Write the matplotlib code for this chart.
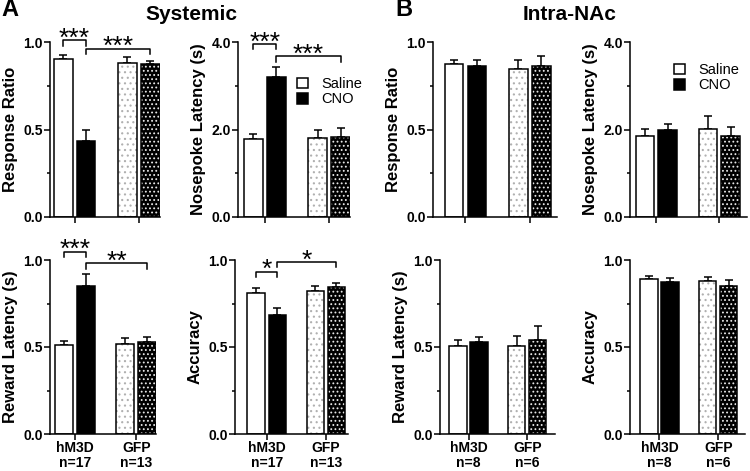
import matplotlib

matplotlib.use("Agg")
import matplotlib.pyplot as plt
import matplotlib.patches as mpatches
from matplotlib.ticker import MultipleLocator

plt.rcParams["font.family"] = ["Liberation Sans", "DejaVu Sans"]
plt.rcParams["hatch.linewidth"] = 0.8

# ---- data (bar order: hM3D saline, hM3D CNO, GFP saline, GFP CNO) ----
groups = ["hM3D", "GFP"]
conditions = ["Saline", "CNO"]
n_systemic = [17, 13]
n_intra = [8, 6]

sys_response_mean = [0.903, 0.432, 0.880, 0.874]
sys_response_sem = [0.021, 0.067, 0.032, 0.019]
sys_nosepoke_mean = [1.79, 3.21, 1.81, 1.84]
sys_nosepoke_sem = [0.11, 0.22, 0.19, 0.19]
sys_reward_mean = [0.512, 0.851, 0.518, 0.528]
sys_reward_sem = [0.020, 0.069, 0.033, 0.032]
sys_accuracy_mean = [0.809, 0.683, 0.824, 0.843]
sys_accuracy_sem = [0.032, 0.044, 0.029, 0.027]

nac_response_mean = [0.874, 0.861, 0.846, 0.861]
nac_response_sem = [0.025, 0.038, 0.053, 0.057]
nac_nosepoke_mean = [1.85, 1.99, 2.02, 1.86]
nac_nosepoke_sem = [0.17, 0.14, 0.29, 0.20]
nac_reward_mean = [0.505, 0.528, 0.505, 0.543]
nac_reward_sem = [0.038, 0.030, 0.057, 0.080]
nac_accuracy_mean = [0.891, 0.872, 0.882, 0.851]
nac_accuracy_sem = [0.019, 0.027, 0.023, 0.035]

# significance brackets: (bar_i, bar_j, height, label)
sys_response_sig = [(0, 1, 1.01, "***"), (1, 3, 0.96, "***")]
sys_nosepoke_sig = [(0, 1, 3.95, "***"), (1, 3, 3.67, "***")]
sys_reward_sig = [(0, 1, 1.048, "***"), (1, 3, 0.981, "**")]
sys_accuracy_sig = [(0, 1, 0.933, "*"), (1, 3, 0.987, "*")]

# ---- layout ----
W, H = 750, 471
XPOS = [0, 1, 2.8, 3.8]
BAR_W = 0.82
LW = 1.1


def rect(left, top, right, bottom):
    return [left / W, 1 - bottom / H, (right - left) / W, (bottom - top) / H]


def draw_panel(fig, box, xlim, means, sems, ylabel, ymax, ns, sig=None,
               legend=None, show_x=False):
    ax = fig.add_axes(rect(*box))
    fills = ["white", "black", "white", "black"]
    hatches = [None, None, "...", "...."]
    hatch_cols = [None, None, "#b0b0b0", "#e8e8e8"]
    for x, m, fc, h, hc in zip(XPOS, means, fills, hatches, hatch_cols):
        if h:
            ax.bar(x, m, width=BAR_W, color=fc, hatch=h, edgecolor=hc,
                   linewidth=0, zorder=2)
        else:
            ax.bar(x, m, width=BAR_W, color=fc, linewidth=0, zorder=2)
        ax.bar(x, m, width=BAR_W, fill=False, edgecolor="black",
               linewidth=LW, zorder=3)
    ax.errorbar(XPOS, means, yerr=[[0] * 4, sems], fmt="none", ecolor="black",
                elinewidth=LW, capsize=3.2, capthick=LW, zorder=1)

    ax.set_xlim(*xlim)
    ax.set_ylim(0, ymax)
    ax.yaxis.set_major_locator(MultipleLocator(ymax / 2))
    ax.yaxis.set_minor_locator(MultipleLocator(ymax / 4))
    ax.yaxis.set_major_formatter(plt.FormatStrFormatter("%.1f"))
    for s in ("top", "right"):
        ax.spines[s].set_visible(False)
    for s in ("left", "bottom"):
        ax.spines[s].set_linewidth(LW)
    ax.tick_params(axis="y", which="major", length=4, width=LW, pad=1,
                   labelsize=10)
    ax.tick_params(axis="y", which="minor", length=2.5, width=LW)
    for t in ax.get_yticklabels():
        t.set_fontweight("bold")
    ax.tick_params(axis="x", length=4, width=LW, pad=1, labelsize=10)
    centers = [(XPOS[0] + XPOS[1]) / 2, (XPOS[2] + XPOS[3]) / 2]
    ax.set_xticks(centers)
    if show_x:
        ax.set_xticklabels([f"{g}\nn={n}" for g, n in zip(groups, ns)],
                           fontweight="bold", linespacing=1.1)
    else:
        ax.set_xticklabels([])
    ax.set_ylabel(ylabel, fontsize=12, fontweight="bold", labelpad=4)

    if sig:
        d = ymax * 0.03
        for i, j, y, lab in sig:
            ax.plot([XPOS[i], XPOS[i], XPOS[j], XPOS[j]], [y - d, y, y, y - d],
                    color="black", lw=LW, clip_on=False)
            ax.annotate(lab, xy=((XPOS[i] + XPOS[j]) / 2, y), xytext=(0, -3.8),
                        textcoords="offset points", ha="center", va="baseline",
                        fontsize=19, annotation_clip=False)
    if legend:
        handles = [mpatches.Patch(facecolor="white", edgecolor="black",
                                  linewidth=LW, label=conditions[0]),
                   mpatches.Patch(facecolor="black", edgecolor="black",
                                  linewidth=LW, label=conditions[1])]
        ax.legend(handles=handles, loc="upper left", bbox_to_anchor=legend,
                  frameon=False, fontsize=10.5, handlelength=0.75,
                  handleheight=0.75, handletextpad=0.9, labelspacing=0.1,
                  borderaxespad=0, borderpad=0)
    return ax


fig = plt.figure(figsize=(W / 100, H / 100), dpi=100)

draw_panel(fig, (50, 42, 160, 217), (-0.57, 4.22), sys_response_mean,
           sys_response_sem, "Response Ratio", 1.0, n_systemic,
           sig=sys_response_sig)
draw_panel(fig, (238, 42, 350, 217), (-0.67, 4.2), sys_nosepoke_mean,
           sys_nosepoke_sem, "Nosepoke Latency (s)", 4.0, n_systemic,
           sig=sys_nosepoke_sig, legend=(0.53, 0.80))
draw_panel(fig, (50, 260, 156, 434), (-0.64, 4.2), sys_reward_mean,
           sys_reward_sem, "Reward Latency (s)", 1.0, n_systemic,
           sig=sys_reward_sig, show_x=True)
draw_panel(fig, (235, 260, 348, 434), (-1.0, 4.35), sys_accuracy_mean,
           sys_accuracy_sem, "Accuracy", 1.0, n_systemic,
           sig=sys_accuracy_sig, show_x=True)

draw_panel(fig, (433, 42, 557, 217), (-0.91, 4.48), nac_response_mean,
           nac_response_sem, "Response Ratio", 1.0, n_intra)
draw_panel(fig, (630, 42, 747, 217), (-0.67, 4.53), nac_nosepoke_mean,
           nac_nosepoke_sem, "Nosepoke Latency (s)", 4.0, n_intra,
           legend=(0.38, 0.88))
draw_panel(fig, (440, 260, 555, 434), (-0.86, 4.62), nac_reward_mean,
           nac_reward_sem, "Reward Latency (s)", 1.0, n_intra, show_x=True)
draw_panel(fig, (630, 260, 745, 434), (-0.9, 4.57), nac_accuracy_mean,
           nac_accuracy_sem, "Accuracy", 1.0, n_intra, show_x=True)

fig.text(10 / W, 1 - 10 / H, "A", fontsize=17, fontweight="bold",
         ha="center", va="center")
fig.text(404 / W, 1 - 10 / H, "B", fontsize=17, fontweight="bold",
         ha="center", va="center")
fig.text(191 / W, 1 - 14 / H, "Systemic", fontsize=15, fontweight="bold",
         ha="center", va="center")
fig.text(570 / W, 1 - 14 / H, "Intra-NAc", fontsize=15, fontweight="bold",
         ha="center", va="center")

fig.savefig("out.png", dpi=100)
